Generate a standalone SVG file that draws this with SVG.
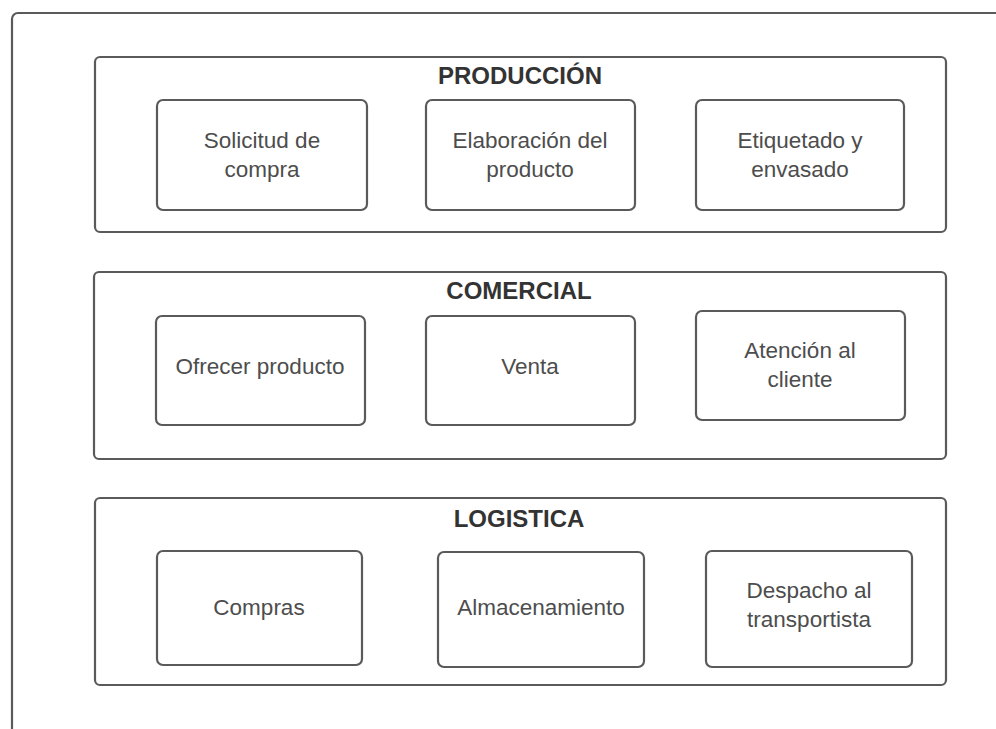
<svg xmlns="http://www.w3.org/2000/svg" width="996" height="729" viewBox="0 0 996 729">
<style>
.frame{fill:#fff;stroke:#5a5a5a;stroke-width:2.2}
.box{fill:#fff;stroke:#5a5a5a;stroke-width:2.2}
.title{font-family:"Liberation Sans",Arial,sans-serif;font-weight:bold;font-size:24px;fill:#333;text-anchor:middle}
.lbl{font-family:"Liberation Sans",Arial,sans-serif;font-size:22.5px;fill:#4d4d4d;text-anchor:middle}
</style>
<rect width="996" height="729" fill="#fff"/>
<rect class="frame" x="12" y="13" width="1010" height="740" rx="6"/>
<g id="produccion">
<rect class="box" x="95" y="57" width="851" height="175" rx="5"/>
<text class="title" x="520" y="84">PRODUCCIÓN</text>
</g>
<g id="solicitud"><rect class="box" x="157" y="100" width="210" height="110" rx="6"/><text class="lbl" x="262" y="148">Solicitud de</text><text class="lbl" x="262" y="177">compra</text></g>
<g id="elaboracion"><rect class="box" x="426" y="100" width="209" height="110" rx="6"/><text class="lbl" x="530" y="148">Elaboración del</text><text class="lbl" x="530" y="177">producto</text></g>
<g id="etiquetado"><rect class="box" x="696" y="100" width="208" height="110" rx="6"/><text class="lbl" x="800" y="148">Etiquetado y</text><text class="lbl" x="800" y="177">envasado</text></g>
<g id="comercial">
<rect class="box" x="94" y="272" width="852" height="187" rx="5"/>
<text class="title" x="519" y="299">COMERCIAL</text>
</g>
<g id="ofrecer"><rect class="box" x="156" y="316" width="209" height="109" rx="6"/><text class="lbl" x="260" y="374">Ofrecer producto</text></g>
<g id="venta"><rect class="box" x="426" y="316" width="209" height="109" rx="6"/><text class="lbl" x="530" y="374">Venta</text></g>
<g id="atencion"><rect class="box" x="696" y="311" width="209" height="109" rx="6"/><text class="lbl" x="800" y="358">Atención al</text><text class="lbl" x="800" y="387">cliente</text></g>
<g id="logistica">
<rect class="box" x="95" y="498" width="851" height="187" rx="5"/>
<text class="title" x="519" y="527">LOGISTICA</text>
</g>
<g id="compras"><rect class="box" x="157" y="551" width="205" height="114" rx="6"/><text class="lbl" x="259" y="615">Compras</text></g>
<g id="almacenamiento"><rect class="box" x="438" y="552" width="206" height="115" rx="6"/><text class="lbl" x="541" y="615">Almacenamiento</text></g>
<g id="despacho"><rect class="box" x="706" y="551" width="206" height="116" rx="6"/><text class="lbl" x="809" y="598">Despacho al</text><text class="lbl" x="809" y="627">transportista</text></g>
<g id="connectors"></g>
</svg>
